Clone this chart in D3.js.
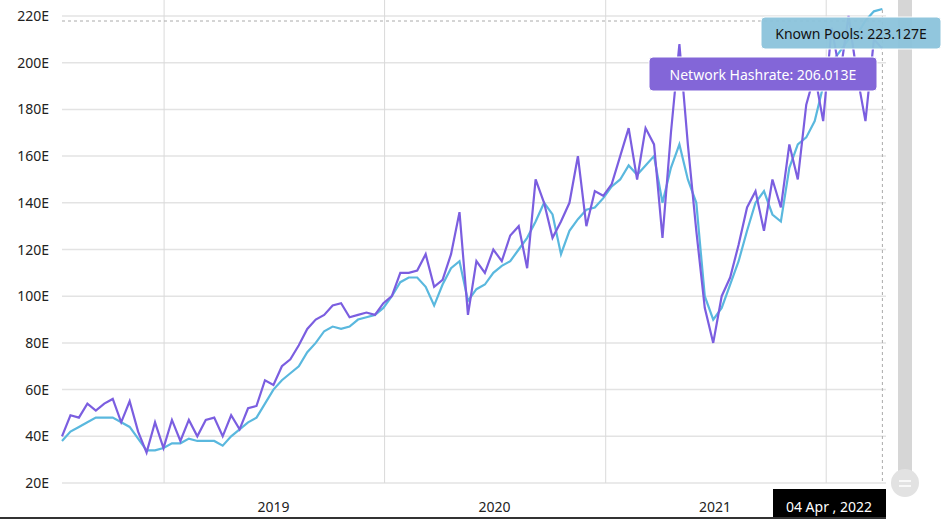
<!DOCTYPE html>
<html><head><meta charset="utf-8">
<script src="https://cdn.jsdelivr.net/npm/d3@7"></script>
<style>body{margin:0;background:#fff;font-family:"Noto Sans",sans-serif}</style>
</head><body><div id="chart"></div>
<script>
// two-week samples starting mid July 2018
const startDate = new Date(2018, 6, 16);
const hashrate = [40,49,48,54,51,54,56,46,55,42,33,46,35,47,38,47,40,47,48,40,49,43,52,53,64,62,70,73,79,86,90,92,96,97,91,92,93,92,97,100,110,110,111,118,104,107,118,136,92,115,110,120,115,126,130,112,150,140,125,132,140,160,130,145,143,148,160,172,150,172,165,125,170,208,165,128,95,80,100,108,122,138,145,128,150,138,165,150,182,195,175,215,195,220,195,175,210,206];
const pools = [38,42,44,46,48,48,48,46,44,39,34,34,35,37,37,39,38,38,38,36,40,43,46,48,54,60,64,67,70,76,80,85,87,86,87,90,91,92,95,100,106,108,108,104,96,105,112,115,98,103,105,110,113,115,120,125,132,140,135,118,128,133,137,138,142,147,150,156,152,156,160,140,155,165,150,140,100,90,95,105,115,128,140,145,135,132,155,165,168,175,190,200,205,210,212,218,222,223];
const yTicks = [20,40,60,80,100,120,140,160,180,200,220];
const yearTicks = [2019,2020,2021,2022];
const tipPools = 'Known Pools: 223.127E';
const tipHash = 'Network Hashrate: 206.013E';
const tipDate = '04 Apr , 2022';

const width = 945, height = 519;
const margin = {top: 16, right: 59, bottom: 36, left: 62};
const dates = hashrate.map((d, i) => d3.timeDay.offset(startDate, i * 14));

const svg = d3.select('#chart').append('svg').attr('width', width).attr('height', height);

const x = d3.scaleTime()
    .domain([startDate, new Date(2022, 3, 10)])
    .range([margin.left, width - margin.right]);
const y = d3.scaleLinear().domain([20, 220]).range([height - margin.bottom, margin.top]);

// grid
svg.append('g').selectAll('line').data(yTicks).join('line')
    .attr('x1', margin.left).attr('x2', width - margin.right)
    .attr('y1', d => y(d)).attr('y2', d => y(d))
    .attr('stroke', '#e3e3e3').attr('stroke-width', 1.5);
svg.append('g').selectAll('line').data(yearTicks).join('line')
    .attr('x1', d => x(new Date(d, 0, 1))).attr('x2', d => x(new Date(d, 0, 1)))
    .attr('y1', 0).attr('y2', height - margin.bottom)
    .attr('stroke', '#dadada');

svg.append('g').selectAll('text').data(yTicks).join('text')
    .attr('x', 49).attr('y', d => y(d) + 5).attr('text-anchor', 'end')
    .attr('font-size', 14).attr('fill', '#222').text(d => d + 'E');
svg.append('g').selectAll('text').data(yearTicks.slice(0, 3)).join('text')
    .attr('x', d => x(new Date(d, 6, 1))).attr('y', 512).attr('text-anchor', 'middle')
    .attr('font-size', 14).attr('fill', '#222').text(d => d);

const line = vals => d3.line().x((d, i) => x(dates[i])).y(d => y(d))(vals);
svg.append('path').attr('d', line(pools)).attr('fill', 'none')
    .attr('stroke', '#5ab8de').attr('stroke-width', 2.2);
svg.append('path').attr('d', line(hashrate)).attr('fill', 'none')
    .attr('stroke', '#7b5ee0').attr('stroke-width', 2.2);

// crosshair
const lastX = x(dates[dates.length - 1]);
svg.append('line').attr('x1', margin.left).attr('x2', lastX)
    .attr('y1', 21).attr('y2', 21).attr('stroke', '#aaa').attr('stroke-dasharray', '3,3');
svg.append('line').attr('x1', lastX).attr('x2', lastX)
    .attr('y1', 10).attr('y2', height - margin.bottom).attr('stroke', '#aaa').attr('stroke-dasharray', '3,3');

// scrollbar
svg.append('rect').attr('x', 898).attr('y', 0).attr('width', 14).attr('height', 480).attr('fill', '#d6d6d6');
svg.append('circle').attr('cx', 905).attr('cy', 483).attr('r', 14).attr('fill', '#e2e2e2');
svg.append('line').attr('x1', 899).attr('x2', 911).attr('y1', 481).attr('y2', 481).attr('stroke', '#fff').attr('stroke-width', 1.5);
svg.append('line').attr('x1', 899).attr('x2', 911).attr('y1', 486).attr('y2', 486).attr('stroke', '#fff').attr('stroke-width', 1.5);

// tooltips
svg.append('rect').attr('x', 761).attr('y', 17).attr('width', 180).attr('height', 32).attr('rx', 4)
    .attr('fill', '#8cc4dc').attr('stroke', '#fff').attr('opacity', 0.95);
svg.append('text').attr('x', 851).attr('y', 39).attr('text-anchor', 'middle')
    .attr('font-size', 14).attr('fill', '#111').text(tipPools);
svg.append('rect').attr('x', 649).attr('y', 57).attr('width', 228).attr('height', 34).attr('rx', 4)
    .attr('fill', '#8366d8').attr('stroke', '#fff');
svg.append('text').attr('x', 763).attr('y', 80).attr('text-anchor', 'middle')
    .attr('font-size', 14).attr('fill', '#fff').text(tipHash);
svg.append('rect').attr('x', 773).attr('y', 489).attr('width', 113).attr('height', 30).attr('fill', '#000');
svg.append('text').attr('x', 829).attr('y', 512).attr('text-anchor', 'middle')
    .attr('font-size', 14).attr('fill', '#fff').text(tipDate);
svg.append('line').attr('x1', 0).attr('x2', 886).attr('y1', 518).attr('y2', 518).attr('stroke', '#333').attr('stroke-width', 2);
</script></body></html>
